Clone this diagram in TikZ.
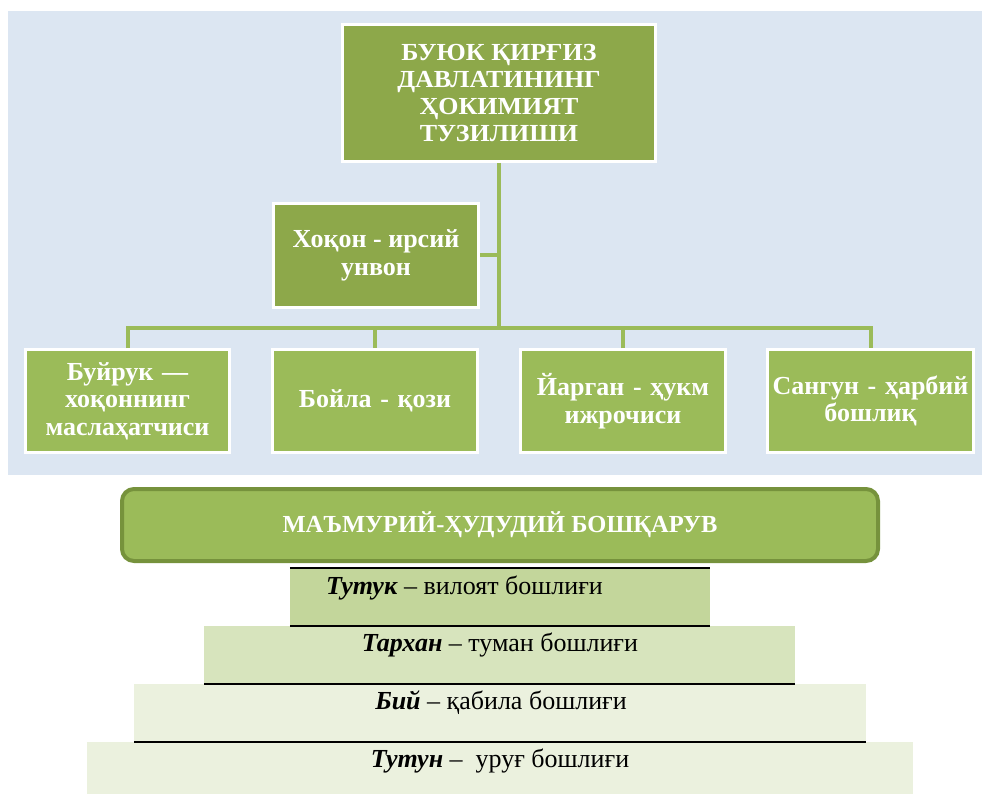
\documentclass[tikz,border=0pt]{standalone}
\usepackage{fontspec}
\setmainfont{Liberation Serif}
\definecolor{bgblue}{HTML}{DCE6F2}
\definecolor{dgreen}{HTML}{8DA84A}
\definecolor{lgreen}{HTML}{9BBB59}
\definecolor{bordergreen}{HTML}{76923C}
\definecolor{lay1}{HTML}{C3D69B}
\definecolor{lay2}{HTML}{D7E4BD}
\definecolor{lay3}{HTML}{EBF1DE}
\definecolor{lay4}{HTML}{EBF1DE}
\begin{document}
\begin{tikzpicture}[x=1pt,y=-1pt,
  box/.style={draw=white, line width=3pt, fill=#1, text=white,
    font=\bfseries\fontsize{26}{27.5}\selectfont, align=center, inner sep=0pt},
  conn/.style={draw=lgreen, line width=4pt},
  layer/.style={fill=#1, inner sep=0pt, draw=none},
  ltext/.style={anchor=base, font=\fontsize{26}{28}\selectfont, inner sep=0pt},
  sepline/.style={line width=1.5pt, draw=black}]
\useasboundingbox (0,0) rectangle (982,794);
\fill[white] (0,0) rectangle (982,794);
\fill[bgblue] (8,11) rectangle (982,475);

% top structure
\node[box=dgreen, minimum width=313pt, minimum height=137pt,
  font=\bfseries\fontsize{24.5}{27}\selectfont\addfontfeature{FakeStretch=1.06}] (top) at (499,93)
  {БУЮК ҚИРҒИЗ\\ДАВЛАТИНИНГ\\ҲОКИМИЯТ\\ТУЗИЛИШИ};
\node[box=dgreen, minimum width=205pt, minimum height=104pt,
  font=\bfseries\fontsize{26}{28}\selectfont] (hk) at (376,255.5)
  {Хоқон - ирсий\\унвон};
\node[box=lgreen, minimum width=204pt, minimum height=103pt, text width=204pt] (b1) at (127.5,401)
  {Буйрук —\\хоқоннинг\\маслаҳатчиси};
\node[box=lgreen, minimum width=205pt, minimum height=103pt, text width=205pt] (b2) at (375,401)
  {Бойла - қози};
\node[box=lgreen, minimum width=205pt, minimum height=103pt, text width=205pt] (b3) at (623,401)
  {Йарган - ҳукм\\ижрочиси};
\node[box=lgreen, minimum width=206pt, minimum height=103pt, text width=206pt] (b4) at (870.5,401)
  {Сангун - ҳарбий\\бошлиқ};

\coordinate (j) at (499,328);
\draw[conn] (top.south) -- (j);
\draw[conn] (hk.east) -- (hk.east -| j);
\draw[conn] (b1.north) -- (b1.north |- j) -- (b4.north |- j) -- (b4.north);
\draw[conn] (b2.north) -- (b2.north |- j);
\draw[conn] (b3.north) -- (b3.north |- j);

% administrative part
\node[draw=bordergreen, line width=4pt, fill=lgreen, rounded corners=12pt,
  minimum width=756pt, minimum height=72pt, text=white,
  font=\bfseries\fontsize{24.5}{26}\selectfont] (adm) at (500,525)
  {МАЪМУРИЙ-ҲУДУДИЙ БОШҚАРУВ};

\node[layer=lay1, minimum width=420pt, minimum height=58pt] (L1) at (500,597) {};
\node[layer=lay2, minimum width=591pt, minimum height=58pt] (L2) at (499.5,655) {};
\node[layer=lay3, minimum width=732pt, minimum height=58pt] (L3) at (500,713) {};
\node[layer=lay4, minimum width=826pt, minimum height=52pt] (L4) at (500,768) {};

\draw[sepline] (L1.north west) -- (L1.north east);
\draw[sepline] (L1.south west) -- (L1.south east);
\draw[sepline] (L2.south west) -- (L2.south east);
\draw[sepline] (L3.south west) -- (L3.south east);

\node[ltext] (t1) at (464.5,594) {\textbf{\textit{Тутук}} – вилоят бошлиғи};
\node[ltext] (t2) at (500,651) {\textbf{\textit{Тархан}} – туман бошлиғи};
\node[ltext] (t3) at (501,709) {\textbf{\textit{Бий}} – қабила бошлиғи};
\node[ltext] (t4) at (500,767) {\textbf{\textit{Тутун}} –\ \ уруғ бошлиғи};
\end{tikzpicture}
\end{document}
